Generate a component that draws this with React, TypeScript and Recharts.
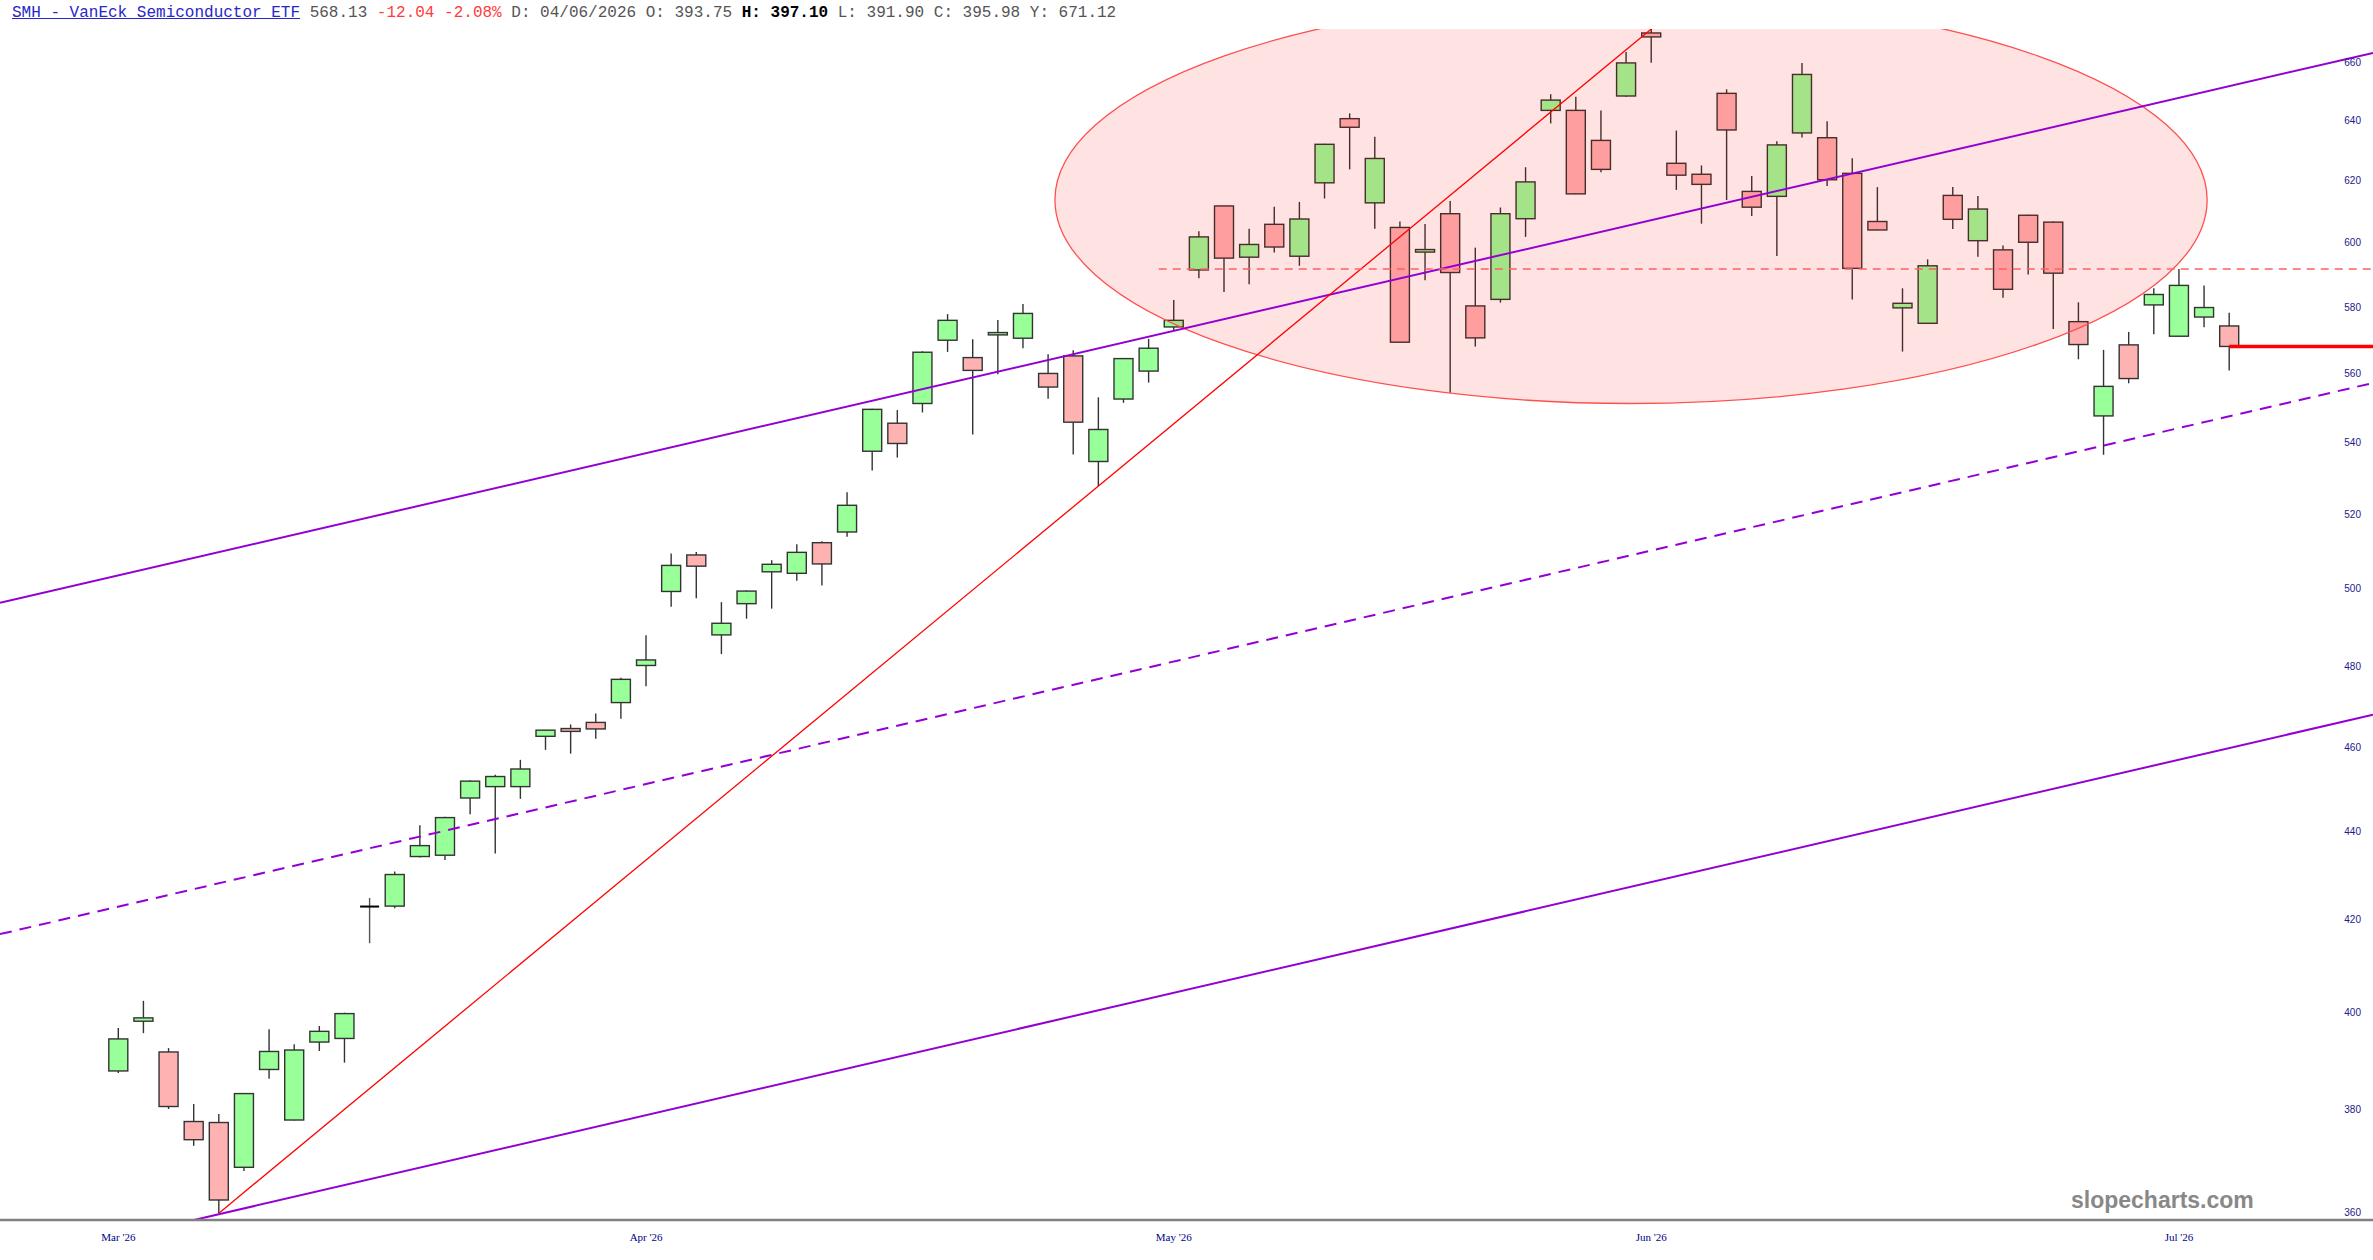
import React from 'react';
import { ComposedChart, Bar, XAxis, YAxis, ReferenceLine, ReferenceArea } from 'recharts';

// daily candles (index 0 = first session shown)
const opens = [
  387.8, 398.1, 391.7, 377.6, 377.4, 368.6, 388.1, 377.9, 393.75, 394.5,
  422.9, 423.0, 434.2, 434.5, 447.8, 450.5, 450.5, 462.6, 464.5, 466.0,
  470.9, 480.2, 499.3, 509.0, 488.0, 496.1, 504.5, 504.1, 512.3, 515.2,
  537.6, 545.6, 551.3, 570.0, 564.8, 571.6, 570.6, 560.1, 565.3, 534.7,
  552.6, 560.8, 574.0, 591.5, 611.8, 595.5, 605.9, 595.8, 619.3, 640.6,
  612.8, 604.9, 597.1, 609.3, 580.4, 582.4, 607.7, 643.4, 643.4, 633.3,
  648.3, 670.2, 625.7, 622.1, 649.2, 616.5, 614.9, 635.8, 634.2, 622.4,
  606.8, 579.8, 575.1, 615.2, 600.7, 597.8, 608.8, 606.6, 575.6, 547.7,
  568.6, 580.7, 571.2, 577.0, 574.3,
];
const highs = [
  396.7, 402.4, 392.5, 381.1, 379.1, 383.3, 396.4, 393.3, 397.1, 399.9,
  424.8, 430.8, 441.4, 443.4, 452.0, 453.3, 456.9, 464.2, 465.5, 468.2,
  477.1, 487.9, 509.4, 509.8, 496.5, 499.6, 507.6, 511.9, 512.7, 526.1,
  549.8, 549.4, 566.7, 577.9, 570.3, 576.1, 581.0, 565.8, 567.0, 553.1,
  564.7, 570.4, 582.2, 603.7, 611.9, 604.5, 611.5, 613.1, 632.2, 642.4,
  634.5, 606.8, 606.0, 613.4, 598.5, 611.3, 624.4, 648.9, 648.0, 643.4,
  663.5, 672.0, 636.6, 625.0, 650.6, 621.5, 633.0, 659.7, 639.7, 627.4,
  617.9, 585.8, 594.8, 617.9, 615.0, 599.2, 609.0, 606.8, 581.5, 567.1,
  572.5, 585.8, 591.8, 586.7, 578.3,
];
const lows = [
  387.4, 395.6, 380.1, 372.8, 359.8, 367.9, 386.2, 377.8, 391.9, 389.5,
  414.8, 422.5, 434.0, 433.4, 444.0, 434.9, 447.6, 459.3, 458.4, 462.0,
  466.9, 475.0, 495.3, 497.5, 483.1, 492.2, 494.8, 502.1, 500.9, 513.9,
  532.2, 535.8, 548.7, 566.5, 542.4, 559.9, 567.6, 552.7, 536.7, 527.8,
  551.5, 557.4, 573.1, 588.9, 584.7, 587.1, 597.0, 592.8, 614.2, 623.7,
  604.5, 569.3, 588.3, 554.4, 568.1, 581.4, 601.9, 639.0, 615.6, 622.8,
  648.0, 659.8, 617.0, 606.1, 613.7, 608.6, 595.9, 634.3, 618.3, 582.4,
  604.0, 566.6, 574.9, 604.4, 595.6, 582.9, 590.1, 573.4, 564.3, 536.6,
  557.2, 571.8, 571.0, 573.9, 561.0,
];
const closes = [
  394.4, 398.8, 380.6, 374.0, 362.3, 383.2, 391.8, 392.1, 395.98, 399.7,
  422.9, 430.1, 436.7, 443.2, 451.8, 452.9, 454.7, 464.1, 463.8, 464.4,
  476.7, 481.6, 506.2, 506.0, 491.0, 499.4, 506.5, 509.7, 506.6, 522.5,
  549.6, 539.8, 566.4, 576.0, 561.0, 572.3, 578.1, 556.1, 545.9, 543.8,
  564.5, 567.6, 576.0, 601.9, 595.2, 599.5, 598.7, 607.6, 632.0, 637.7,
  627.3, 569.4, 597.9, 590.7, 570.7, 609.3, 619.6, 646.9, 615.7, 623.7,
  659.7, 668.8, 621.8, 618.8, 636.8, 611.4, 631.8, 655.7, 620.3, 592.0,
  604.1, 581.2, 592.8, 607.5, 610.8, 585.5, 600.2, 590.5, 568.7, 556.3,
  558.6, 583.9, 586.7, 579.9, 568.13,
];

const monthTicks = [0, 21, 42, 61, 82];
const monthLabels = ["Mar '26", "Apr '26", "May '26", "Jun '26", "Jul '26"];
const priceTicks = [360, 380, 400, 420, 440, 460, 480, 500, 520, 540, 560, 580, 600, 620, 640, 660];

const xFrom = -4.71;
const xTo = 89.72;
const priceMin = 358.5;
const priceMax = 671.6;

// drawn studies
const channelUpper = [{ x: xFrom, y: 496.3 }, { x: xTo, y: 663.2 }];
const channelMiddle = [{ x: xFrom, y: 416.8 }, { x: xTo, y: 557.3 }];
const channelLower = [{ x: xFrom, y: 350.1 }, { x: xTo, y: 467.9 }];
const rallyLine = [{ x: 4, y: 359.8 }, { x: 61, y: 671.6 }];
const resistance = [{ x: 41.4, y: 591.8 }, { x: xTo, y: 591.8 }];
const lastClose = [{ x: 84, y: 568.13 }, { x: xTo, y: 568.13 }];
const zoneX = [37.27, 83.12];
const zoneY = [551.3, 683.2];

const rows = opens.map((o, i) => ({
  i,
  open: o,
  high: highs[i],
  low: lows[i],
  close: closes[i],
  range: [lows[i], highs[i]],
}));

const Candle = (props: any) => {
  const { x, y, width, height, payload } = props;
  if (x == null || y == null) return null;
  const top = Math.min(y, y + height);
  const h = Math.abs(height);
  const lh = Math.log(payload.high);
  const ll = Math.log(payload.low);
  const toY = (p: number) => top + (h * (lh - Math.log(p))) / (lh - ll || 1);
  const cx = x + width / 2;
  const yo = toY(payload.open);
  const yc = toY(payload.close);
  if (payload.open === payload.close) {
    return (
      <g>
        <line x1={cx} x2={cx} y1={top} y2={top + h} stroke="#555" strokeWidth={1.4} />
        <line x1={x} x2={x + width} y1={yo} y2={yo} stroke="#000" strokeWidth={2} />
      </g>
    );
  }
  const fill = payload.close > payload.open ? '#99ff99' : '#ffb2b2';
  return (
    <g>
      <line x1={cx} x2={cx} y1={top} y2={top + h} stroke="#333" strokeWidth={1.4} />
      <rect
        x={x}
        y={Math.min(yo, yc)}
        width={width}
        height={Math.abs(yc - yo)}
        fill={fill}
        stroke="#333"
        strokeWidth={1.4}
      />
    </g>
  );
};

// ellipse inscribed in the area, cut off where it passes the top of the plot
const Zone = (props: any) => {
  const { x, y, width, height, lo, hi, cap } = props;
  if (x == null || y == null) return null;
  const top = Math.min(y, y + height);
  const h = Math.abs(height);
  const capY = top + (h * (Math.log(hi) - Math.log(cap))) / (Math.log(hi) - Math.log(lo));
  const left = Math.min(x, x + width);
  const w = Math.abs(width);
  return (
    <g>
      <defs>
        <clipPath id="zone-clip">
          <rect x={left - 4} y={capY} width={w + 8} height={top + h - capY + 4} />
        </clipPath>
      </defs>
      <ellipse
        clipPath="url(#zone-clip)"
        cx={left + w / 2}
        cy={top + h / 2}
        rx={w / 2}
        ry={h / 2}
        fill="rgba(255,0,0,0.11)"
        stroke="#ff5050"
        strokeWidth={1.3}
      />
    </g>
  );
};

const mono = '"Liberation Mono", "DejaVu Sans Mono", monospace';

export default function App() {
  return (
    <div style={{ position: 'absolute', left: 0, top: 0, width: 2373, height: 1260, background: '#fff' }}>
      <ComposedChart width={2373} height={1260} data={rows} margin={{ top: 29, right: 0, bottom: 0, left: 0 }}>
        <XAxis
          type="number"
          dataKey="i"
          domain={[xFrom, xTo]}
          allowDataOverflow
          ticks={monthTicks}
          interval={0}
          tickFormatter={(v: number) => monthLabels[monthTicks.indexOf(v)] ?? ''}
          height={40}
          axisLine={{ stroke: '#808080', strokeWidth: 2.5 }}
          tickLine={false}
          tickSize={6}
          tickMargin={7}
          tick={{ fill: '#00008b', fontSize: 11, fontFamily: '"Liberation Serif", serif' }}
        />
        <YAxis
          orientation="right"
          mirror
          type="number"
          scale="log"
          domain={[priceMin, priceMax]}
          allowDataOverflow
          ticks={priceTicks}
          interval={0}
          axisLine={false}
          tickLine={false}
          tickSize={0}
          tickMargin={12}
          tick={{ fill: '#1a1a8c', fontSize: 10, fontFamily: '"Liberation Sans", sans-serif' }}
        />
        <Bar dataKey="range" barSize={19} shape={<Candle />} isAnimationActive={false} zIndex={300} />
        <ReferenceArea
          x1={zoneX[0]}
          x2={zoneX[1]}
          y1={zoneY[0]}
          y2={zoneY[1]}
          ifOverflow="visible"
          shape={<Zone lo={zoneY[0]} hi={zoneY[1]} cap={priceMax} />}
          zIndex={350}
        />
        <ReferenceLine segment={channelUpper} stroke="#9400d3" strokeWidth={2} ifOverflow="hidden" zIndex={450} />
        <ReferenceLine segment={channelLower} stroke="#9400d3" strokeWidth={2} ifOverflow="hidden" zIndex={450} />
        <ReferenceLine
          segment={channelMiddle}
          stroke="#9400d3"
          strokeWidth={2}
          strokeDasharray="12 8"
          ifOverflow="hidden"
          zIndex={450}
        />
        <ReferenceLine segment={rallyLine} stroke="#ff0000" strokeWidth={1.3} ifOverflow="hidden" zIndex={450} />
        <ReferenceLine
          segment={resistance}
          stroke="#ff6060"
          strokeWidth={1.5}
          strokeDasharray="8 6"
          ifOverflow="hidden"
          zIndex={450}
        />
        <ReferenceLine segment={lastClose} stroke="#ff0000" strokeWidth={3.5} ifOverflow="hidden" zIndex={450} />
      </ComposedChart>

      <div
        style={{
          position: 'absolute',
          left: 12,
          top: 4,
          fontFamily: mono,
          fontSize: 16,
          lineHeight: '18px',
          whiteSpace: 'pre',
          color: '#555',
        }}
      >
        <span style={{ color: '#2727c9', textDecoration: 'underline' }}>SMH - VanEck Semiconductor ETF</span>
        {' 568.13 '}
        <span style={{ color: '#ff3b3b' }}>-12.04 -2.08%</span>
        {' D: 04/06/2026 O: 393.75 '}
        <span style={{ color: '#000', fontWeight: 'bold' }}>H: 397.10</span>
        {' L: 391.90 C: 395.98 Y: 671.12'}
      </div>

      <div
        style={{
          position: 'absolute',
          left: 2071,
          top: 1189,
          fontFamily: '"Liberation Sans", Arial, sans-serif',
          fontWeight: 'bold',
          fontSize: 23,
          lineHeight: '23px',
          color: '#888',
        }}
      >
        slopecharts.com
      </div>
    </div>
  );
}
